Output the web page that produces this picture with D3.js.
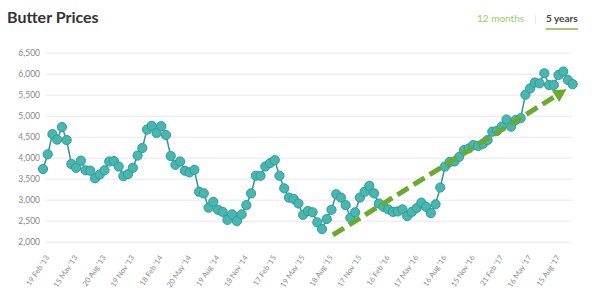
<!DOCTYPE html>
<html>
<head>
<meta charset="utf-8">
<script src="https://cdn.jsdelivr.net/npm/d3@7"></script>
<style>
  body { margin: 0; background: #fff; font-family: Lato, "Open Sans", sans-serif; }
  svg { display: block; }
</style>
</head>
<body>
<div id="chart"></div>
<script>
// GDT butter auction prices, roughly every two weeks (one label every 6 events)
const prices = [
  3730, 4080, 4560, 4430, 4730, 4420, 3850, 3760, 3930, 3700,
  3690, 3510, 3600, 3700, 3910, 3920, 3790, 3560, 3610, 3760,
  4050, 4230, 4670, 4760, 4590, 4750, 4540, 4040, 3830, 3910,
  3690, 3650, 3710, 3190, 3150, 2810, 2950, 2760, 2710, 2520,
  2650, 2490, 2650, 2870, 3150, 3570, 3570, 3790, 3870, 3940,
  3570, 3270, 3050, 3020, 2910, 2640, 2730, 2700, 2460, 2300,
  2540, 2760, 3130, 3050, 2870, 2570, 2700, 3050, 3190, 3330,
  3150, 2910, 2830, 2770, 2710, 2720, 2770, 2610, 2710, 2800,
  2930, 2830, 2680, 2890, 3290, 3790, 3900, 3910, 4020, 4180,
  4220, 4300, 4280, 4330, 4420, 4620, 4640, 4740, 4910, 4740,
  4900, 4940, 5500, 5650, 5790, 5770, 6010, 5730, 5730, 5970,
  6050, 5850, 5750
];

const tickLabels = [
  "19 Feb '13", "15 May '13", "20 Aug '13", "19 Nov '13", "18 Feb '14",
  "20 May '14", "19 Aug '14", "18 Nov '14", "17 Feb '15", "19 May '15",
  "18 Aug '15", "17 Nov '15", "16 Feb '16", "17 May '16", "16 Aug '16",
  "15 Nov '16", "21 Feb '17", "16 May '17", "15 Aug '17"
];
const labelEvery = 6;

const yTicks = [2000, 2500, 3000, 3500, 4000, 4500, 5000, 5500, 6000, 6500];

// hand drawn trend arrow (event index, price)
const trendFrom = [61.3, 2160];
const trendTo = [110.7, 5630];

const width = 600;
const height = 296;

const svg = d3.select("#chart")
  .append("svg")
  .attr("width", width)
  .attr("height", height);

const x = d3.scaleLinear()
  .domain([0, prices.length - 1])
  .range([43, 572.7]);

const y = d3.scaleLinear()
  .domain([2000, 6500])
  .range([241.7, 52.7]);

// title + toggles
svg.append("text")
  .attr("x", 7)
  .attr("y", 23)
  .attr("font-size", 16)
  .attr("font-weight", 700)
  .attr("fill", "#333")
  .text("Butter Prices");

svg.append("text")
  .attr("x", 477)
  .attr("y", 22)
  .attr("font-size", 10)
  .attr("fill", "#9ccc65")
  .text("12 months");

svg.append("text")
  .attr("x", 534)
  .attr("y", 22)
  .attr("font-size", 10)
  .attr("fill", "#ddd")
  .text("|");

svg.append("text")
  .attr("x", 546)
  .attr("y", 22)
  .attr("font-size", 10)
  .attr("font-weight", 700)
  .attr("fill", "#444")
  .text("5 years");

svg.append("line")
  .attr("x1", 546).attr("x2", 578)
  .attr("y1", 29).attr("y2", 29)
  .attr("stroke", "#8bb84a")
  .attr("stroke-width", 1.5);

// y axis as gridlines
const yAxis = svg.append("g")
  .attr("transform", "translate(45,0)")
  .call(d3.axisLeft(y)
    .tickValues(yTicks)
    .tickSize(-527)
    .tickPadding(5)
    .tickFormat(d3.format(",")));

yAxis.select(".domain").remove();
yAxis.selectAll(".tick line").attr("stroke", "#e8e8e8");
yAxis.selectAll(".tick text")
  .attr("fill", "#888")
  .style("font-size", "8.5px")
  .style("font-family", "Lato, sans-serif");

// x axis labels
const xAxis = svg.append("g")
  .attr("transform", "translate(0,257)")
  .call(d3.axisBottom(x)
    .tickValues(tickLabels.map((d, i) => i * labelEvery))
    .tickSize(0)
    .tickFormat((d, i) => tickLabels[i]));

xAxis.select(".domain").remove();
xAxis.selectAll(".tick text")
  .attr("fill", "#8a8a8a")
  .style("font-size", "7.5px")
  .style("font-family", "Lato, sans-serif")
  .style("text-anchor", "end")
  .attr("dx", "0.4em")
  .attr("dy", "0.3em")
  .attr("transform", "rotate(-56)");

// price line
const line = d3.line()
  .x((d, i) => x(i))
  .y(d => y(d));

svg.append("path")
  .datum(prices)
  .attr("fill", "none")
  .attr("stroke", "#3a9490")
  .attr("stroke-width", 1.5)
  .attr("d", line);

svg.selectAll(".pt")
  .data(prices)
  .enter()
  .append("circle")
  .attr("class", "pt")
  .attr("cx", (d, i) => x(i))
  .attr("cy", d => y(d))
  .attr("r", 4.6)
  .attr("fill", "#48b7b1")
  .attr("stroke", "#2f9b96")
  .attr("stroke-width", 1);

// trend arrow
const x1 = x(trendFrom[0]), y1 = y(trendFrom[1]);
const x2 = x(trendTo[0]), y2 = y(trendTo[1]);
const ang = Math.atan2(y2 - y1, x2 - x1);
const headLen = 13;
const bx = x2 - headLen * Math.cos(ang), by = y2 - headLen * Math.sin(ang);

svg.append("line")
  .attr("x1", x1).attr("y1", y1)
  .attr("x2", bx).attr("y2", by)
  .attr("stroke", "#6aaa30")
  .attr("stroke-width", 5)
  .attr("stroke-dasharray", "13,6");

const hw = 7;
svg.append("path")
  .attr("d", `M${x2},${y2}L${bx + hw * Math.sin(ang)},${by - hw * Math.cos(ang)}L${bx - hw * Math.sin(ang)},${by + hw * Math.cos(ang)}Z`)
  .attr("fill", "#6aaa30");
</script>
</body>
</html>
